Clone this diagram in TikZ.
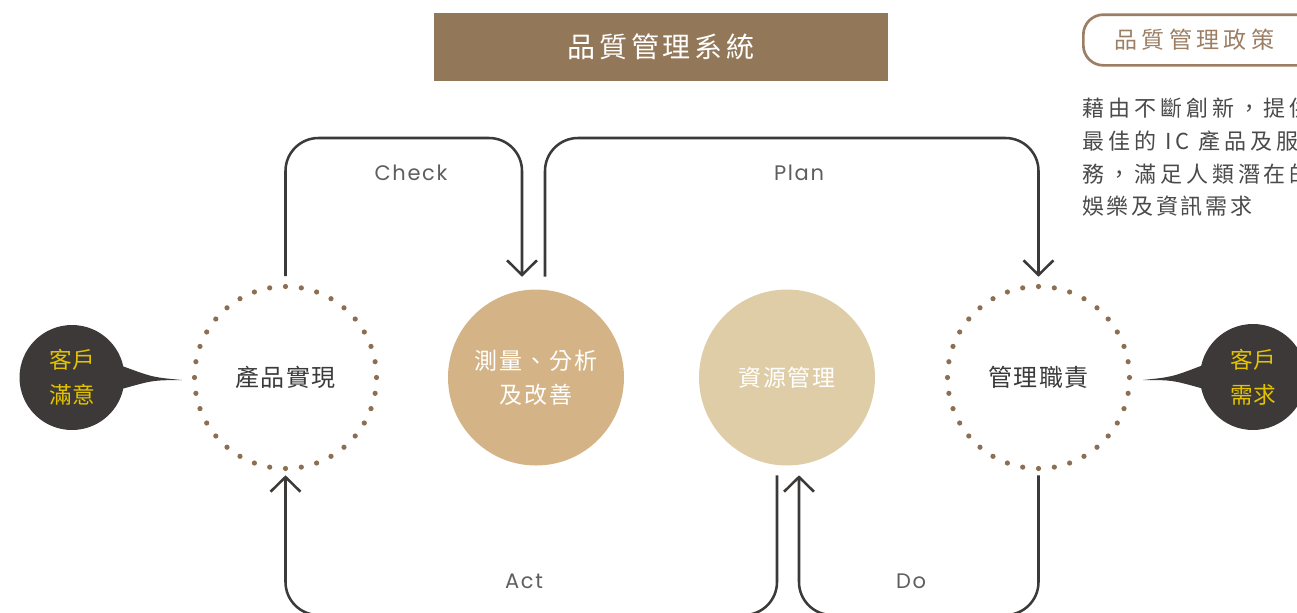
\documentclass[tikz,border=0pt]{standalone}
\usepackage{fontspec}
\newfontfamily\cjk{Noto Sans CJK TC}
\newfontfamily\cjkTitle[LetterSpace=14]{Noto Sans CJK TC}
\newfontfamily\cjkPol[LetterSpace=19]{Noto Sans CJK TC}
\newfontfamily\cjkNode[LetterSpace=8]{Noto Sans CJK TC}
\newfontfamily\cjkRing[LetterSpace=5]{Noto Sans CJK TC}
\newfontfamily\cjkParA[LetterSpace=18]{Noto Sans CJK TC}
\newfontfamily\cjkParB[LetterSpace=12]{Noto Sans CJK TC}
\newfontfamily\latlbl[LetterSpace=8]{Poppins}
\usetikzlibrary{arrows.meta,calc}
\definecolor{titlebrown}{HTML}{927758}
\definecolor{polbrown}{HTML}{9B7E63}
\definecolor{dotbrown}{HTML}{8C6E52}
\definecolor{darkline}{HTML}{3C3A39}
\definecolor{bubblecol}{HTML}{3D3938}
\definecolor{yel}{HTML}{E3C300}
\definecolor{circA}{HTML}{D4B486}
\definecolor{circB}{HTML}{DFCDA7}
\definecolor{txtgray}{HTML}{4A4A4A}
\definecolor{lblgray}{HTML}{5E5E5E}
\definecolor{nodetxt}{HTML}{3A3A3A}
\begin{document}
\begin{tikzpicture}[x=0.75pt,y=-0.75pt,
  conn/.style={draw=darkline, line width=1.9pt, rounded corners=24.75pt,
    -{Straight Barb[length=11pt,width=22.5pt]}},
  lbl/.style={text=lblgray, font=\latlbl\fontsize{15.75pt}{18pt}\selectfont, inner sep=0pt},
  dotring/.style={circle, minimum size=136.5pt, inner sep=0pt, text=nodetxt,
    font=\cjkRing\fontsize{18pt}{20pt}\selectfont},
  fillcirc/.style={circle, minimum size=132pt, inner sep=0pt, text=white, align=center,
    font=\cjkNode\fontsize{17.25pt}{25.5pt}\selectfont},
  bubble/.style={circle, fill=bubblecol, inner sep=0pt, text=yel, align=center,
    font=\cjk\fontsize{17pt}{26.25pt}\selectfont},
  para/.style={anchor=west, inner sep=0pt, text=txtgray},
]
\useasboundingbox (0,0) rectangle (1297,612);
\clip (0,0) rectangle (1297,612);

% title
\node[fill=titlebrown, minimum width=340.5pt, minimum height=51pt, inner sep=0pt,
  text=white, font=\cjkTitle\fontsize{21pt}{24pt}\selectfont] (title) at (661,47) {品質管理系統};

% policy box
\node[draw=polbrown, line width=2pt, rounded corners=15pt, anchor=west,
  inner xsep=23.25pt, inner ysep=0pt, minimum height=38pt, text width=132pt, align=left,
  text=polbrown, font=\cjkPol\fontsize{17.25pt}{20pt}\selectfont] (policy) at (1082,40) {品質管理政策};

% paragraph
\node[para, font=\cjkParA\fontsize{16.5pt}{18pt}\selectfont] (par1) at (1082,108) {藉由不斷創新，提供};
\node[para, font=\cjkParA\fontsize{16.5pt}{18pt}\selectfont] (par2) at (1082,141) {最佳的 IC 產品及服};
\node[para, font=\cjkParA\fontsize{16.5pt}{18pt}\selectfont] (par3) at (1082,174) {務，滿足人類潛在的};
\node[para, font=\cjkParB\fontsize{16.5pt}{18pt}\selectfont] (par4) at (1082,206) {娛樂及資訊需求};

% circles
\node[dotring] (prod) at (285.5,377.5) {產品實現};
\node[dotring] (resp) at (1038.5,377.5) {管理職責};
\foreach \a in {0,10,...,350} {
  \fill[dotbrown] ($(prod.center)+(\a:91)$) circle[radius=2.6];
  \fill[dotbrown] ($(resp.center)+(\a:91)$) circle[radius=2.6];
}
\node[fillcirc, fill=circA] (meas) at (536,377.5) {測量、分析\\及改善};
\node[fillcirc, fill=circB] (res) at (787,377.5) {資源管理};

% bubbles
\node[bubble, minimum size=78.75pt] (sat) at (72,377.5) {客戶\\滿意};
\coordinate (satT) at (182,380);
\fill[bubblecol] (sat.12) .. controls ($(sat.12)!0.5!(satT)+(0,4)$) .. (satT)
  .. controls ($(sat.-12)!0.5!(satT)+(0,-4)$) .. (sat.-12) -- (sat.center) -- cycle;

\node[bubble, minimum size=79.5pt] (dem) at (1253,377) {客戶\\需求};
\coordinate (demT) at (1143,380);
\fill[bubblecol] (dem.168) .. controls ($(dem.168)!0.5!(demT)+(0,4)$) .. (demT)
  .. controls ($(dem.192)!0.5!(demT)+(0,-4)$) .. (dem.192) -- (dem.center) -- cycle;

% connectors
\coordinate (ckS) at ($(prod.north)+(0,-10)$);
\coordinate (ckE) at ($(meas.north)+(-14,-12.5)$);
\coordinate (ckT) at (400,138);
\draw[conn] (ckS) |- (ckT) -| (ckE);

\coordinate (plS) at ($(meas.north)+(9,-12.5)$);
\coordinate (plE) at ($(resp.north)+(0,-9.5)$);
\coordinate (plT) at (800,138);
\draw[conn] (plS) |- (plT) -| (plE);

\coordinate (acS) at ($(res.south)+(-10,9.5)$);
\coordinate (acE) at ($(prod.south)+(0,6.5)$);
\coordinate (acB) at (530,615);
\draw[conn] (acS) |- (acB) -| (acE);

\coordinate (doS) at ($(resp.south)+(0,6.5)$);
\coordinate (doE) at ($(res.south)+(12,9.5)$);
\coordinate (doB) at (900,615);
\draw[conn] (doS) |- (doB) -| (doE);

% labels
\node[lbl] (chk) at (411,173) {Check};
\node[lbl] (pln) at (799,173) {Plan};
\node[lbl] (act) at (524,581) {Act};
\node[lbl] (dol) at (911,581) {Do};
\end{tikzpicture}
\end{document}
